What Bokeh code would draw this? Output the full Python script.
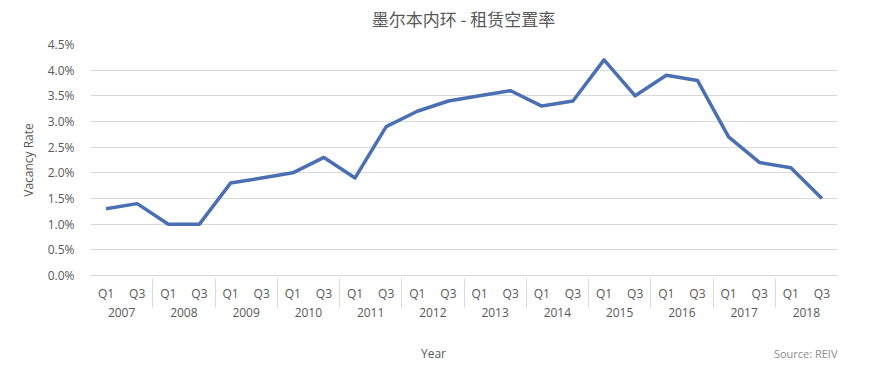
from bokeh.plotting import figure
from bokeh.models import FactorRange, Range1d, PrintfTickFormatter, ColumnDataSource, FixedTicker, Label
from bokeh.layouts import column
from bokeh.embed import file_html
from bokeh.resources import INLINE

years = ["2007", "2008", "2009", "2010", "2011", "2012", "2013", "2014", "2015", "2016", "2017", "2018"]
quarters = ["Q1", "Q3"]
vacancy = [1.3, 1.4, 1.0, 1.0, 1.8, 1.9, 2.0, 2.3, 1.9, 2.9, 3.2, 3.4,
           3.5, 3.6, 3.3, 3.4, 4.2, 3.5, 3.9, 3.8, 2.7, 2.2, 2.1, 1.5]
y_ticks = [0.0, 0.5, 1.0, 1.5, 2.0, 2.5, 3.0, 3.5, 4.0, 4.5]

factors = [(y, q) for y in years for q in quarters]
src = ColumnDataSource(dict(x=factors, y=vacancy))

TXT = "#595959"
GRID = "#d9d9d9"
W = 888
TOP_H, MAIN_H, BOT_H = 34, 304, 40
FRAME_LEFT = 90  # column layout aligns all frames to this left edge


def strip(fig):
    fig.outline_line_color = None
    fig.min_border = 0
    return fig


# --- title strip ---
top = strip(figure(width=W, height=TOP_H, output_backend="svg", toolbar_location=None,
                   x_range=Range1d(0, 1), y_range=Range1d(0, 1),
                   x_axis_type=None, y_axis_type=None))
top.add_layout(Label(x=463 - FRAME_LEFT, y=TOP_H - 18, x_units="screen", y_units="screen",
                     text="墨尔本内环 - 租赁空置率", text_font="Noto Sans CJK SC",
                     text_font_size="17px", text_color=TXT,
                     text_align="center", text_baseline="middle"))

# --- main chart ---
p = figure(width=W, height=MAIN_H, output_backend="svg", toolbar_location=None,
           x_range=FactorRange(*factors, factor_padding=0, group_padding=0, range_padding=0),
           y_range=Range1d(0, 4.5),
           min_border_left=FRAME_LEFT, min_border_right=51, min_border_top=10, min_border_bottom=63)

p.line("x", "y", source=src, line_color="#4a6fb2", line_width=3.5, line_join="round")

p.outline_line_color = None
p.xgrid.grid_line_color = None
p.ygrid.grid_line_color = GRID
p.ygrid.grid_line_width = 1

ya = p.yaxis[0]
ya.ticker = FixedTicker(ticks=y_ticks)
ya.formatter = PrintfTickFormatter(format="%.1f%%")
ya.axis_line_color = None
ya.major_tick_line_color = None
ya.minor_tick_line_color = None
ya.major_label_text_font = "Open Sans"
ya.major_label_text_font_size = "12px"
ya.major_label_text_color = TXT
ya.major_label_standoff = 10
ya.axis_label = "Vacancy Rate"
ya.axis_label_text_font = "Open Sans"
ya.axis_label_text_font_size = "12px"
ya.axis_label_text_font_style = "normal"
ya.axis_label_text_color = TXT
ya.axis_label_standoff = 8

xa = p.xaxis[0]
xa.axis_line_color = GRID
xa.major_tick_line_color = None
xa.minor_tick_line_color = None
xa.major_label_text_font = "Open Sans"
xa.major_label_text_font_size = "12px"
xa.major_label_text_color = TXT
xa.major_label_standoff = 3
xa.group_text_font = "Open Sans"
xa.group_text_font_size = "12px"
xa.group_text_font_style = "normal"
xa.group_text_color = TXT
xa.separator_line_color = GRID
xa.separator_line_width = 1

# --- footer strip ---
bot = strip(figure(width=W, height=BOT_H, output_backend="svg", toolbar_location=None,
                   x_range=Range1d(0, 1), y_range=Range1d(0, 1),
                   x_axis_type=None, y_axis_type=None))
bot.add_layout(Label(x=433 - FRAME_LEFT, y=BOT_H - 15, x_units="screen", y_units="screen", text="Year",
                     text_font="Open Sans", text_font_size="12px", text_color=TXT,
                     text_align="center", text_baseline="middle"))
bot.add_layout(Label(x=837 - FRAME_LEFT, y=BOT_H - 15, x_units="screen", y_units="screen",
                     text="Source: REIV", text_font="Open Sans", text_font_size="11px",
                     text_color="#8c8c8c", text_align="right", text_baseline="middle"))

layout = column(top, p, bot, spacing=0)
open("out.html", "w").write(file_html(layout, INLINE))
